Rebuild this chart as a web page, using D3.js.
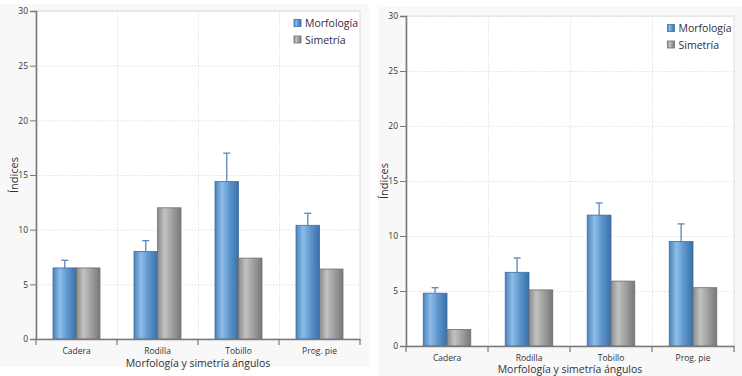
<!DOCTYPE html>
<html><head><meta charset="utf-8">
<script src="https://cdn.jsdelivr.net/npm/d3@7"></script>
<style>body{margin:0;background:#fff}svg{display:block}text{font-family:"Open Sans","Noto Sans",sans-serif}</style>
</head><body><svg id="c" width="742" height="376"></svg>
<script>
const categories = ["Cadera", "Rodilla", "Tobillo", "Prog. pie"];
const seriesNames = ["Morfología", "Simetría"];
const yTicks = [0, 5, 10, 15, 20, 25, 30];
const left_morfologia = [6.5, 8.0, 14.4, 10.4];
const left_morfologia_err = [7.2, 9.0, 17.0, 11.5];
const left_simetria = [6.5, 12.0, 7.4, 6.4];
const right_morfologia = [4.8, 6.7, 11.9, 9.5];
const right_morfologia_err = [5.3, 8.0, 13.0, 11.1];
const right_simetria = [1.5, 5.1, 5.9, 5.3];
const xTitle = "Morfología y simetría ángulos";
const yTitle = "Índices";

const svg = d3.select("#c");
const defs = svg.append("defs");
function grad(id, stops){
  const g = defs.append("linearGradient").attr("id", id).attr("x1","0").attr("x2","1").attr("y1","0").attr("y2","0");
  stops.forEach(s => g.append("stop").attr("offset", s[0]).attr("stop-color", s[1]));
}
grad("gBlue", [["0%","#4a83bd"],["30%","#8dbde8"],["60%","#5f97cf"],["100%","#3b70a8"]]);
grad("gGray", [["0%","#8a8a8a"],["30%","#c2c2c2"],["60%","#a2a2a2"],["100%","#787878"]]);

function panel(o){
  const g = svg.append("g");
  g.append("rect").attr("x",o.bg[0]).attr("y",o.bg[1]).attr("width",o.bg[2]).attr("height",o.bg[3]).attr("fill","#f8f8f8");
  g.append("rect").attr("x",o.x0).attr("y",o.y0).attr("width",o.x1-o.x0).attr("height",o.y1-o.y0)
    .attr("fill","#fff").attr("stroke","#dcdcdc").attr("stroke-width",1);
  const x = d3.scaleBand().domain(categories).range([o.x0, o.x1]).padding(0);
  const y = d3.scaleLinear().domain([0, 30]).range([o.y1, o.y0]);
  const xs = d3.scaleBand().domain(seriesNames).range([x.bandwidth()*0.21, x.bandwidth()*0.79]).padding(0);
  // grid
  g.selectAll(".hg").data(yTicks.filter(t => t>0)).join("line")
    .attr("x1",o.x0).attr("x2",o.x1).attr("y1",d=>y(d)+0.5).attr("y2",d=>y(d)+0.5)
    .attr("stroke","#e2e2e2").attr("stroke-dasharray","1.5,1.5");
  g.selectAll(".vg").data(categories.slice(1)).join("line")
    .attr("x1",d=>x(d)+0.5).attr("x2",d=>x(d)+0.5).attr("y1",o.y0).attr("y2",o.y1)
    .attr("stroke","#e2e2e2").attr("stroke-dasharray","1.5,1.5");
  // bars
  const series = [{name:"Morfología", vals:o.m, fill:"url(#gBlue)", stroke:"#3d6e9e"},
                  {name:"Simetría", vals:o.s, fill:"url(#gGray)", stroke:"#6f6f6f"}];
  series.forEach(s => {
    g.selectAll(null).data(categories).join("rect")
      .attr("x",(d)=>x(d)+xs(s.name)).attr("width",xs.bandwidth())
      .attr("y",(d,i)=>y(s.vals[i])).attr("height",(d,i)=>y(0)-y(s.vals[i]))
      .attr("fill",s.fill).attr("stroke",s.stroke).attr("stroke-width",0.8);
  });
  // error bars
  const ec = d => x(d)+xs("Morfología")+xs.bandwidth()/2;
  g.selectAll(null).data(categories).join("line")
    .attr("x1",ec).attr("x2",ec).attr("y1",(d,i)=>y(o.m[i])).attr("y2",(d,i)=>y(o.me[i]))
    .attr("stroke","#5b87b5").attr("stroke-width",1.3);
  g.selectAll(null).data(categories).join("line")
    .attr("x1",d=>ec(d)-3.5).attr("x2",d=>ec(d)+3.5).attr("y1",(d,i)=>y(o.me[i])).attr("y2",(d,i)=>y(o.me[i]))
    .attr("stroke","#5b87b5").attr("stroke-width",1.3);
  // y axis
  const ya = g.append("g").attr("transform",`translate(${o.x0},0)`)
    .call(d3.axisLeft(y).tickValues(yTicks).tickSize(6).tickPadding(2));
  ya.select(".domain").attr("stroke","#7a7a7a").attr("stroke-width",1.6);
  ya.selectAll(".tick line").attr("stroke","#7a7a7a");
  ya.selectAll("text").attr("fill","#333").style("font-size","8.5px");
  // x axis
  const xa = g.append("g").attr("transform",`translate(0,${o.y1})`)
    .call(d3.axisBottom(x).tickSize(0).tickPadding(9));
  xa.select(".domain").attr("stroke","#7a7a7a").attr("stroke-width",1.6);
  xa.selectAll("text").attr("fill","#333").style("font-size","8.5px");
  g.selectAll(null).data(categories.concat(["__end"])).join("line")
    .attr("x1",(d,i)=> i<categories.length ? x(d) : o.x1).attr("x2",(d,i)=> i<categories.length ? x(d) : o.x1)
    .attr("y1",o.y1).attr("y2",o.y1+6).attr("stroke","#7a7a7a").attr("stroke-width",1.2);
  // titles
  g.append("text").attr("x",(o.x0+o.x1)/2).attr("y",o.y1+o.titleDy).attr("text-anchor","middle")
    .attr("fill","#333").style("font-size","10.5px").text(xTitle);
  g.append("text").attr("transform",`translate(${o.yTitleX},${(o.y0+o.y1)/2}) rotate(-90)`).attr("text-anchor","middle")
    .attr("fill","#333").style("font-size","11px").text(yTitle);
  // legend
  const lg = g.append("g").attr("transform",`translate(${o.leg[0]},${o.leg[1]})`);
  series.forEach((s,i) => {
    lg.append("rect").attr("x",0).attr("y",i*16.5).attr("width",7).attr("height",7)
      .attr("fill",s.fill).attr("stroke",s.stroke).attr("stroke-width",0.8);
    lg.append("text").attr("x",11).attr("y",i*16.5+7.5).attr("fill","#3a2a3a").style("font-size","10.5px").text(s.name);
  });
}

panel({bg:[0,4,369,363], x0:36, x1:360, y0:11, y1:339, m:left_morfologia, me:left_morfologia_err, s:left_simetria,
       titleDy:27.5, yTitleX:18, leg:[294,19.5]});
panel({bg:[378,7,364,369], x0:406, x1:734, y0:16, y1:346, m:right_morfologia, me:right_morfologia_err, s:right_simetria,
       titleDy:26.5, yTitleX:388, leg:[667.5,24.5]});
</script></body></html>
